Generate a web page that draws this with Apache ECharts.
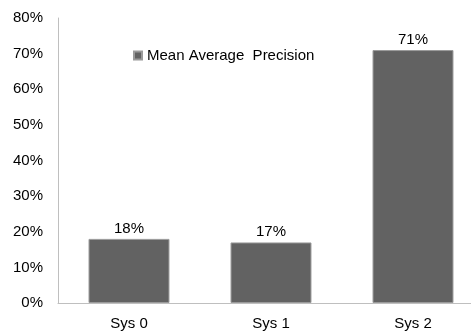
<!DOCTYPE html>
<html><head><meta charset="utf-8">
<script src="https://cdn.jsdelivr.net/npm/echarts@6/dist/echarts.min.js"></script>
<style>html,body{margin:0;padding:0;background:#fff}#c{width:471px;height:333px}</style>
</head><body><div id="c"></div>
<script>
const categories = ['Sys 0', 'Sys 1', 'Sys 2'];
const seriesName = 'Mean Average Precision';
const values = [18, 17, 71];
const yTicks = [0, 10, 20, 30, 40, 50, 60, 70, 80];

const chart = echarts.init(document.getElementById('c'), null, {renderer: 'canvas'});
const font = 'Liberation Sans, Arial, sans-serif';
chart.setOption({
  animation: false,
  backgroundColor: '#fff',
  grid: {left: 58, right: -13, top: 18, bottom: 30, containLabel: false, outerBoundsMode: 'none'},
  legend: {
    show: true, left: 128, top: 43, itemWidth: 8, itemHeight: 8, itemGap: 4,
    icon: 'rect',
    textStyle: {fontFamily: font, fontSize: 15, color: '#000'},
    formatter: () => 'Mean Average  Precision',
    data: [seriesName]
  },
  xAxis: {
    type: 'category', data: categories,
    axisLine: {lineStyle: {color: '#bfbfbf', width: 1}},
    axisTick: {show: false},
    axisLabel: {fontFamily: font, fontSize: 15, color: '#000', margin: 13}
  },
  yAxis: {
    type: 'value', min: yTicks[0], max: yTicks[yTicks.length - 1], interval: 10,
    axisLine: {show: true, lineStyle: {color: '#bfbfbf', width: 1}},
    axisTick: {show: false},
    splitLine: {show: false},
    axisLabel: {fontFamily: font, fontSize: 15, color: '#000', margin: 15, formatter: v => v + '%'}
  },
  series: [{
    name: seriesName, type: 'bar', data: values, barWidth: '57%',
    itemStyle: {color: '#626262', borderColor: '#9a9a9a', borderWidth: 1},
    label: {show: true, position: 'top', distance: 3, fontFamily: font, fontSize: 15, color: '#000', formatter: p => p.value + '%'}
  }]
});
</script></body></html>
